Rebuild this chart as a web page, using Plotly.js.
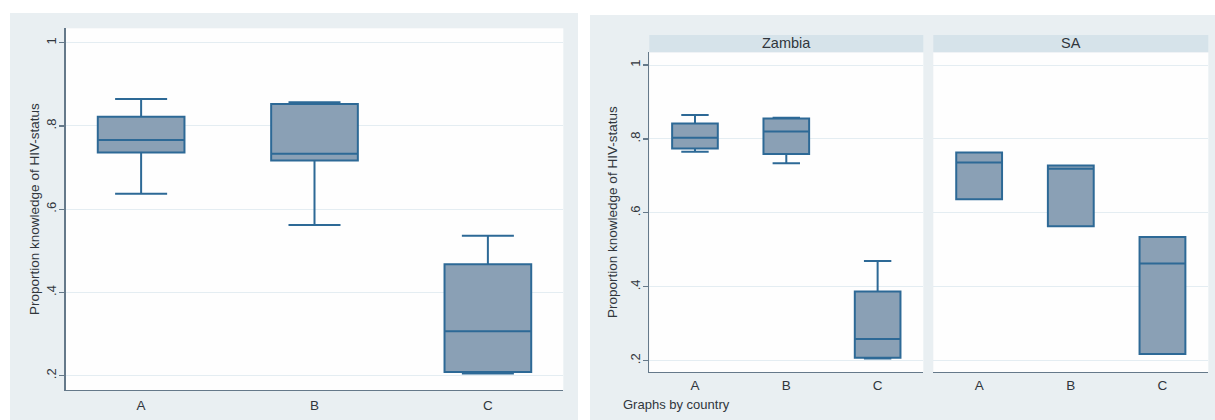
<!DOCTYPE html>
<html>
<head>
<meta charset="utf-8">
<script src="https://cdn.plot.ly/plotly-3.0.1.min.js"></script>
<style>
html,body{margin:0;padding:0;background:#ffffff;}
#chart{width:1215px;height:420px;}
</style>
</head>
<body>
<div id="chart"></div>
<script>
// ---------- data ----------
const categories = ['A', 'B', 'C'];

// pooled (left graph)
const allLowerFence = [0.637, 0.562, 0.205];
const allQ1         = [0.736, 0.717, 0.209];
const allMedian     = [0.766, 0.733, 0.307];
const allQ3         = [0.822, 0.853, 0.468];
const allUpperFence = [0.865, 0.857, 0.536];

// Zambia
const zamLowerFence = [0.765, 0.734, 0.206];
const zamQ1         = [0.774, 0.759, 0.208];
const zamMedian     = [0.803, 0.820, 0.259];
const zamQ3         = [0.842, 0.855, 0.387];
const zamUpperFence = [0.865, 0.857, 0.470];

// SA
const saLowerFence = [0.637, 0.564, 0.218];
const saQ1         = [0.637, 0.564, 0.218];
const saMedian     = [0.736, 0.719, 0.463];
const saQ3         = [0.763, 0.728, 0.535];
const saUpperFence = [0.763, 0.728, 0.535];

const yTickVals = [0.2, 0.4, 0.6, 0.8, 1];
const yTickText = ['.2', '.4', '.6', '.8', '1'];
const panelTitles = ['Zambia', 'SA'];
const yTitle = 'Proportion knowledge of HIV-status';
const byNote = 'Graphs by country';

// ---------- style ----------
const W = 1215, H = 420;
const fx = p => p / W;
const fy = p => 1 - p / H;
const FONT = 'Liberation Sans, Arial, sans-serif';
const TXT = '#30363c';
const AXC = '#65798a';
const GRID = '#e4edf2';
const FILL = '#8aa0b5';
const LINE = '#2d6996';

function boxTrace(lf, q1, med, q3, uf, xa, ya) {
  return {
    type: 'box', x: categories,
    lowerfence: lf, q1: q1, median: med, q3: q3, upperfence: uf,
    xaxis: xa, yaxis: ya,
    width: 0.5, whiskerwidth: 0.6,
    fillcolor: FILL,
    line: {color: LINE, width: 2},
    boxpoints: false, hoverinfo: 'skip', showlegend: false
  };
}

const data = [
  boxTrace(allLowerFence, allQ1, allMedian, allQ3, allUpperFence, 'x', 'y'),
  boxTrace(zamLowerFence, zamQ1, zamMedian, zamQ3, zamUpperFence, 'x2', 'y2'),
  boxTrace(saLowerFence, saQ1, saMedian, saQ3, saUpperFence, 'x3', 'y3')
];

function xAx(domain, anchor, range, standoff) {
  return {
    domain: domain, anchor: anchor, type: 'category', range: range,
    showline: true, linecolor: AXC, linewidth: 1.4,
    ticks: '', showgrid: false, zeroline: false,
    tickfont: {family: FONT, size: 13.5, color: TXT},
    ticklabelstandoff: standoff, fixedrange: true
  };
}
function yAx(domain, anchor, range, withLabels, standoff) {
  const a = {
    domain: domain, anchor: anchor, range: range,
    tickvals: yTickVals, ticktext: yTickText, tickangle: -90,
    showgrid: true, gridcolor: GRID, gridwidth: 1, zeroline: false,
    tickfont: {family: FONT, size: 13, color: TXT},
    fixedrange: true
  };
  if (withLabels) {
    Object.assign(a, {
      showline: true, linecolor: AXC, linewidth: 1.4,
      ticks: 'outside', ticklen: 5, tickcolor: AXC, tickwidth: 1.2,
      showticklabels: true, ticklabelstandoff: -2,
      title: {text: yTitle, font: {family: FONT, size: 13.5, color: TXT}, standoff: standoff}
    });
  } else {
    Object.assign(a, {showline: false, ticks: '', showticklabels: false});
  }
  return a;
}

const layout = {
  width: W, height: H,
  margin: {l: 0, r: 0, t: 0, b: 0},
  paper_bgcolor: '#e9eff2',
  plot_bgcolor: '#fefefe',
  font: {family: FONT, color: TXT},
  showlegend: false,
  xaxis: xAx([fx(65.7), fx(563.3)], 'y', [-0.435, 2.435], 2),
  yaxis: yAx([fy(390), fy(28.3)], 'x', [0.1656, 1.0346], true, 1),
  xaxis2: xAx([fx(649.3), fx(923.3)], 'y2', [-0.5, 2.5], 0),
  yaxis2: yAx([fy(372), fy(52.3)], 'x2', [0.1694, 1.0344], true, 7),
  xaxis3: xAx([fx(933.3), fx(1208.3)], 'y3', [-0.5, 2.5], 0),
  yaxis3: yAx([fy(372), fy(52.3)], 'x3', [0.1694, 1.0344], false, 0),
  shapes: [
    // white surround of the two graph panels
    {type: 'rect', xref: 'paper', yref: 'paper', x0: 0, x1: fx(10), y0: 0, y1: 1, fillcolor: '#ffffff', line: {width: 0}, layer: 'below'},
    {type: 'rect', xref: 'paper', yref: 'paper', x0: fx(578), x1: fx(590), y0: 0, y1: 1, fillcolor: '#ffffff', line: {width: 0}, layer: 'below'},
    {type: 'rect', xref: 'paper', yref: 'paper', x0: 0, x1: fx(590), y0: fy(13), y1: 1, fillcolor: '#ffffff', line: {width: 0}, layer: 'below'},
    {type: 'rect', xref: 'paper', yref: 'paper', x0: fx(590), x1: 1, y0: fy(15), y1: 1, fillcolor: '#ffffff', line: {width: 0}, layer: 'below'},
    // facet header strips
    {type: 'rect', xref: 'x2 domain', yref: 'paper', x0: 0, x1: 1, y0: fy(52.3), y1: fy(35), fillcolor: '#d6e3ea', line: {width: 0}, layer: 'below'},
    {type: 'rect', xref: 'x3 domain', yref: 'paper', x0: 0, x1: 1, y0: fy(52.3), y1: fy(35), fillcolor: '#d6e3ea', line: {width: 0}, layer: 'below'}
  ],
  annotations: [
    {xref: 'x2 domain', yref: 'paper', x: 0.5, y: fy(43), text: panelTitles[0], showarrow: false, xanchor: 'center', yanchor: 'middle', font: {family: FONT, size: 14.5, color: TXT}},
    {xref: 'x3 domain', yref: 'paper', x: 0.5, y: fy(43), text: panelTitles[1], showarrow: false, xanchor: 'center', yanchor: 'middle', font: {family: FONT, size: 14.5, color: TXT}},
    {xref: 'paper', yref: 'paper', x: fx(621), y: fy(404.3), text: byNote, showarrow: false, xanchor: 'left', yanchor: 'middle', font: {family: FONT, size: 13, color: TXT}}
  ]
};

Plotly.newPlot('chart', data, layout, {displayModeBar: false, staticPlot: true});
</script>
</body>
</html>
